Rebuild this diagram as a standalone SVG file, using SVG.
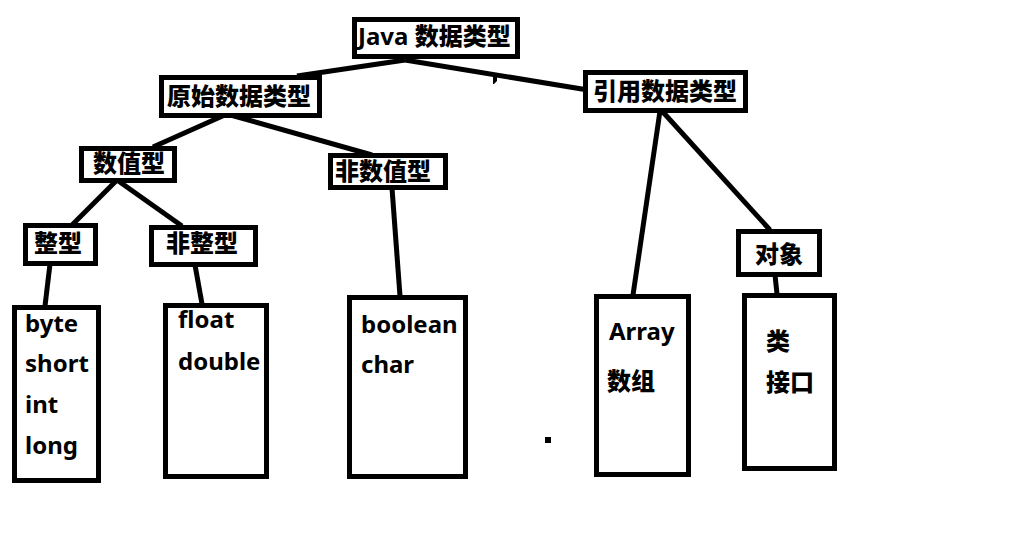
<svg xmlns="http://www.w3.org/2000/svg" width="1016" height="551" viewBox="0 0 1016 551">
<style>
.box{fill:#fff;stroke:#000;stroke-width:5}
.t{font-family:"Noto Sans","Noto Sans CJK SC",sans-serif;font-weight:bold;font-size:24px;fill:#000}
.k{font-family:"Noto Sans CJK SC","Noto Sans",sans-serif;font-weight:900;font-size:24px;fill:#000}
.c line{stroke:#000;stroke-width:5;stroke-linecap:butt}
</style>
<rect width="1016" height="551" fill="#fff"/>
<g class="c" id="connectors">
<line x1="405" y1="60" x2="297" y2="76"/>
<line x1="405" y1="60" x2="588" y2="90"/>
<line x1="227" y1="114" x2="153" y2="147"/>
<line x1="227" y1="114" x2="372" y2="155"/>
<line x1="117" y1="180" x2="72" y2="225"/>
<line x1="117" y1="180" x2="182" y2="226"/>
<line x1="50" y1="264" x2="45" y2="306"/>
<line x1="195" y1="265" x2="202" y2="304"/>
<line x1="392" y1="188" x2="400" y2="296"/>
<line x1="660" y1="111" x2="633" y2="295"/>
<line x1="662" y1="111" x2="770" y2="230"/>
<line x1="775" y1="275" x2="777" y2="294"/>
</g>
<g id="marks">
<path d="M493,77 L497,77 L497,81 L494,84 L493,84 Z"/>
<rect x="545" y="437" width="6" height="6"/>
</g>
<g id="java"><rect class="box" x="354.5" y="19.5" width="163" height="37"/><text class="t" x="358" y="45">Java <tspan class="k">数据类型</tspan></text></g>
<g id="yuanshi"><rect class="box" x="161.5" y="77.5" width="158" height="38"/><text class="k" x="167" y="105">原始数据类型</text></g>
<g id="yinyong"><rect class="box" x="585.5" y="72.5" width="160" height="38"/><text class="k" x="593" y="100">引用数据类型</text></g>
<g id="shuzhi"><rect class="box" x="81.5" y="148.5" width="93" height="32"/><text class="k" x="93" y="172">数值型</text></g>
<g id="feishuzhi"><rect class="box" x="330.5" y="155.5" width="115" height="32"/><text class="k" x="335" y="180">非数值型</text></g>
<g id="zhengxing"><rect class="box" x="25.5" y="225.5" width="70" height="38"/><text class="k" x="34" y="252">整型</text></g>
<g id="feizhengxing"><rect class="box" x="151.5" y="227.5" width="104" height="37"/><text class="k" x="166" y="252">非整型</text></g>
<g id="duixiang"><rect class="box" x="738.5" y="231.5" width="81" height="43"/><text class="k" x="755" y="263">对象</text></g>
<g id="integers"><rect class="box" x="14.5" y="307.5" width="84" height="173"/>
<text class="t" x="25" y="332">byte</text><text class="t" x="25" y="372">short</text><text class="t" x="25" y="413">int</text><text class="t" x="25" y="454">long</text></g>
<g id="floats"><rect class="box" x="165.5" y="305.5" width="101" height="171"/>
<text class="t" x="178" y="328">float</text><text class="t" x="178" y="370">double</text></g>
<g id="nonnumeric"><rect class="box" x="349.5" y="297.5" width="116" height="179"/>
<text class="t" x="361" y="333">boolean</text><text class="t" x="361" y="373">char</text></g>
<g id="array"><rect class="box" x="596.5" y="296.5" width="92" height="178"/>
<text class="t" x="609" y="340">Array</text><text class="k" x="607" y="390">数组</text></g>
<g id="classes"><rect class="box" x="744.5" y="295.5" width="90" height="173"/>
<text class="k" x="766" y="350">类</text><text class="k" x="766" y="391">接口</text></g>
</svg>
